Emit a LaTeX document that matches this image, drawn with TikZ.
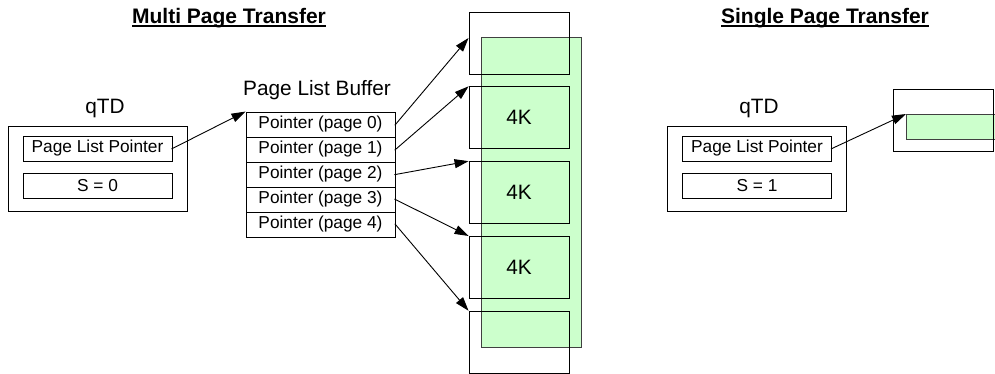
\documentclass[tikz,border=0pt]{standalone}
\usepackage{fontspec}
\setmainfont{Liberation Sans}
\usetikzlibrary{arrows.meta, calc}
\definecolor{pagegreen}{HTML}{CCFFCC}
\definecolor{pageedge}{HTML}{404040}
\newcommand{\ttlline}[1]{\setbox0\hbox{#1}\rlap{\rule[-3.5pt]{\wd0}{1.6pt}}\box0}
\tikzset{
  big/.style={font=\fontsize{20.8}{24}\selectfont},
  small/.style={font=\fontsize{17.3}{20}\selectfont},
  title/.style={font=\fontsize{21}{24}\selectfont\bfseries},
  cell/.style={draw, small, inner sep=0pt, minimum width=149pt, minimum height=25pt},
  outer/.style={draw, inner sep=0pt, minimum width=179pt, minimum height=85pt},
  pagebox/.style={draw, big, inner sep=0pt, minimum width=100pt, minimum height=62pt},
  link/.style={-{Triangle[length=14pt,width=9pt]}, shorten <=-1pt}
}

\begin{document}
\begin{tikzpicture}[x=1pt, y=-1pt, line width=0.9pt]
\useasboundingbox (0,0) rectangle (995,373);
%% multi page transfer
	\node[title] (titleA) at (229, 18) {\ttlline{Multi Page Transfer}};
	\node[big] (labA) at (105, 108) {qTD};
	\node[outer] (qtdA) at (97.5, 168.5) {};
	\node[cell] (ptrA) at (97.5, 148.5) {Page List Pointer};
	\node[cell] (sA) at (97.5, 186) {S = 0};
%% page list buffer
	\node[big] (labBuf) at (317, 90) {Page List Buffer};
  \foreach \i in {0,...,4}
	\node[cell] (row\i) at (320.5, 124.5+25*\i) {Pointer (page \i)};
  \draw[link] (ptrA.east) -- (row0.north west);
%% pages
  \draw[fill=pagegreen, draw=pageedge] (481, 37) rectangle (581, 347);
  \foreach \i/\t in {0/,1/4K,2/4K,3/4K,4/}
	\node[pagebox] (page\i) at (519, 43+74.8*\i) {\t};
  \draw[link] (row0.east) -- ($(page0.north west)!0.42!(page0.south west)$);
  \foreach \i in {1,...,4}
  \draw[link] (row\i.east) -- (page\i.north west);
%% single page transfer
	\node[title] (titleB) at (825, 18) {\ttlline{Single Page Transfer}};
	\node[big] (labB) at (759, 108) {qTD};
	\node[outer] (qtdB) at (756.5, 168.5) {};
	\node[cell] (ptrB) at (757, 148.5) {Page List Pointer};
	\node[cell] (sB) at (757, 186) {S = 1};
  \draw[fill=pagegreen, draw=pageedge] (906, 114) coordinate (grn) rectangle (1005, 139);
	\node[pagebox] (pageB) at (943, 120) {};
  \draw[link] (ptrB.east) -- (grn);
\end{tikzpicture}
\end{document}
